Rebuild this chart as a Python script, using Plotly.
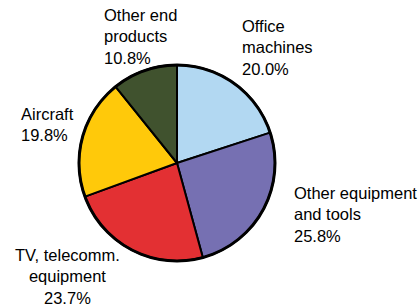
import plotly.graph_objects as go

categories = ["Office machines", "Other equipment and tools", "TV, telecomm. equipment", "Aircraft", "Other end products"]
values = [20.0, 25.8, 23.7, 19.8, 10.8]
label_texts = ["Office<br>machines<br>20.0%", "Other equipment<br>and tools<br>25.8%",
               "TV, telecomm.<br>equipment<br>23.7%", "Aircraft<br>19.8%", "Other end<br>products<br>10.8%"]
colors = ["#B2D8F2", "#7670B2", "#E33033", "#FFC90A", "#40522E"]

W, H = 419, 307
cx, cy, r = 177, 163, 98

fig = go.Figure(go.Pie(
    labels=categories, values=values, sort=False, direction="clockwise", rotation=0,
    marker=dict(colors=colors, line=dict(color="black", width=2)),
    textinfo="none", hoverinfo="skip", showlegend=False,
    domain=dict(x=[(cx - r) / W, (cx + r) / W], y=[(H - cy - r) / H, (H - cy + r) / H]),
))

fig.add_shape(type="circle", xref="paper", yref="paper",
              x0=(cx - r) / W, x1=(cx + r) / W, y0=(H - cy - r) / H, y1=(H - cy + r) / H,
              line=dict(color="black", width=3), fillcolor="rgba(0,0,0,0)")

# label anchor positions (pixel, top-left origin) and alignments
pos = [(240, 48, "left"), (292, 214, "left"), (67, 276, "center"), (19, 125, "left"), (102, 36, "left")]
for txt, (px, py, al) in zip(label_texts, pos):
    fig.add_annotation(text=txt, x=px / W, y=1 - py / H, xref="paper", yref="paper",
                       xanchor=al, yanchor="middle", align=al, showarrow=False,
                       font=dict(family="Liberation Sans, Arial, sans-serif", size=16.5, color="black"))

fig.update_layout(width=W, height=H, margin=dict(l=0, r=0, t=0, b=0),
                  paper_bgcolor="white", plot_bgcolor="white")
fig.write_html("out.html", config={"displayModeBar": False, "staticPlot": True},
               post_script="document.body.style.margin='0';document.body.style.overflow='hidden';")
